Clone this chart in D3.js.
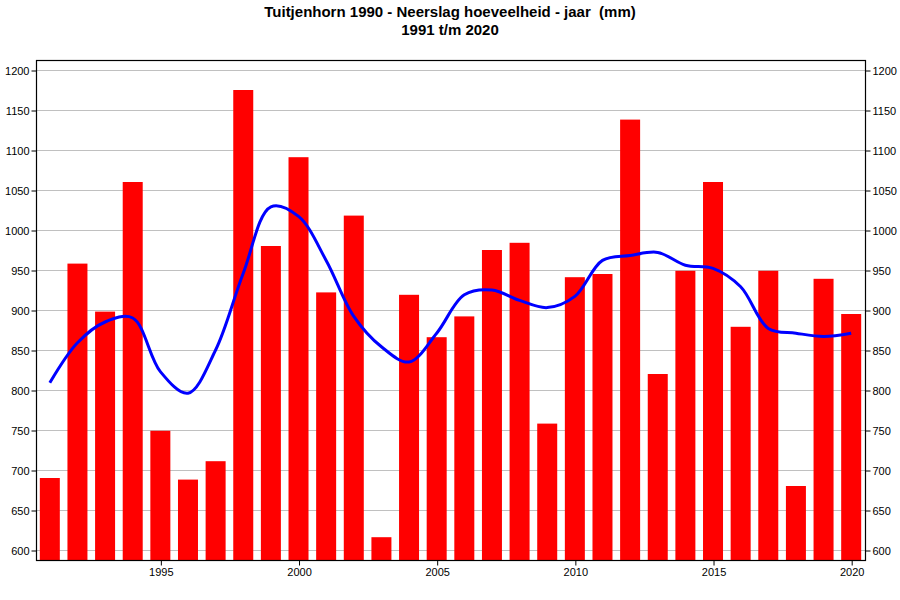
<!DOCTYPE html>
<html>
<head>
<meta charset="utf-8">
<script src="https://cdn.jsdelivr.net/npm/d3@7"></script>
<style>
  body { margin: 0; background: #fff; }
  text { font-family: Arial, "Liberation Sans", sans-serif; }
</style>
</head>
<body>
<svg id="chart" width="900" height="600"></svg>
<script>
// jaren en neerslag (mm)
var years = [1991, 1992, 1993, 1994, 1995, 1996, 1997, 1998, 1999, 2000,
             2001, 2002, 2003, 2004, 2005, 2006, 2007, 2008, 2009, 2010,
             2011, 2012, 2013, 2014, 2015, 2016, 2017, 2018, 2019, 2020];
var neerslag = [690, 958, 898, 1060, 749, 688, 711, 1175, 980, 1091,
                922, 1018, 616, 919, 866, 892, 975, 984, 758, 941,
                945, 1138, 820, 949, 1060, 879, 949, 680, 939, 895];
// smoothed trend line (blue)
var trend = [809, 859, 885, 890, 823, 796, 850, 946, 1029, 1017,
             962, 892, 854, 835, 871, 919, 925, 912, 903, 917,
             962, 968, 972, 956, 952, 929, 877, 871, 867, 871];
var yTicks = [600, 650, 700, 750, 800, 850, 900, 950, 1000, 1050, 1100, 1150, 1200];
var xTicks = [1995, 2000, 2005, 2010, 2015, 2020];

var svg = d3.select('#chart');
var mLeft = 36, mRight = 865, mTop = 60, mBottom = 560;

var x = d3.scaleLinear().domain([1990.5, 2020.5]).range([mLeft, mRight]);
var y = d3.scaleLinear().domain([587.5, 1212.5]).range([mBottom, mTop]);

// title
svg.append('text')
  .attr('x', 450).attr('y', 17)
  .attr('text-anchor', 'middle')
  .style('font-size', '15px').style('font-weight', 'bold')
  .style('white-space', 'pre')
  .text('Tuitjenhorn 1990 - Neerslag hoeveelheid - jaar  (mm)');
svg.append('text')
  .attr('x', 450).attr('y', 35)
  .attr('text-anchor', 'middle')
  .style('font-size', '15px').style('font-weight', 'bold')
  .text('1991 t/m 2020');

// grid lines
svg.append('g').selectAll('line')
  .data(yTicks)
  .enter().append('line')
  .attr('x1', mLeft).attr('x2', mRight)
  .attr('y1', function(d) { return Math.round(y(d)) + 0.5; })
  .attr('y2', function(d) { return Math.round(y(d)) + 0.5; })
  .attr('stroke', '#c0c0c0').attr('stroke-width', 1);

// bars
var barW = 20;
svg.append('g').selectAll('rect')
  .data(years)
  .enter().append('rect')
  .attr('x', function(d) { return x(d) - barW / 2; })
  .attr('width', barW)
  .attr('y', function(d, i) { return y(neerslag[i]); })
  .attr('height', function(d, i) { return mBottom - y(neerslag[i]); })
  .attr('fill', '#ff0000');

// trend line
var line = d3.line()
  .x(function(d, i) { return x(years[i]); })
  .y(function(d) { return y(d); })
  .curve(d3.curveCatmullRom.alpha(0.5));

svg.append('path')
  .datum(trend)
  .attr('d', line)
  .attr('fill', 'none')
  .attr('stroke', '#0000ff')
  .attr('stroke-width', 3);

// frame
svg.append('rect')
  .attr('x', mLeft + 0.5).attr('y', mTop + 0.5)
  .attr('width', mRight - mLeft).attr('height', mBottom - mTop)
  .attr('fill', 'none').attr('stroke', '#000').attr('stroke-width', 1.2);

// axes
var yLeft = d3.axisLeft(y).tickValues(yTicks).tickSize(5).tickPadding(2).tickFormat(d3.format('d'));
var yRight = d3.axisRight(y).tickValues(yTicks).tickSize(5).tickPadding(2).tickFormat(d3.format('d'));
var xBottom = d3.axisBottom(x).tickValues(xTicks).tickSize(5).tickPadding(3).tickFormat(d3.format('d'));

function styleAxis(g) {
  g.select('.domain').remove();
  g.selectAll('text').style('font-size', '11px').style('font-family', 'Arial, "Liberation Sans", sans-serif').attr('fill', '#000');
  g.selectAll('line').attr('stroke', '#000');
}

svg.append('g').attr('transform', 'translate(' + (mLeft + 0.5) + ',0.5)').call(yLeft).call(styleAxis);
svg.append('g').attr('transform', 'translate(' + (mRight + 0.5) + ',0.5)').call(yRight).call(styleAxis);
svg.append('g').attr('transform', 'translate(0.5,' + (mBottom + 0.5) + ')').call(xBottom).call(styleAxis);
</script>
</body>
</html>
